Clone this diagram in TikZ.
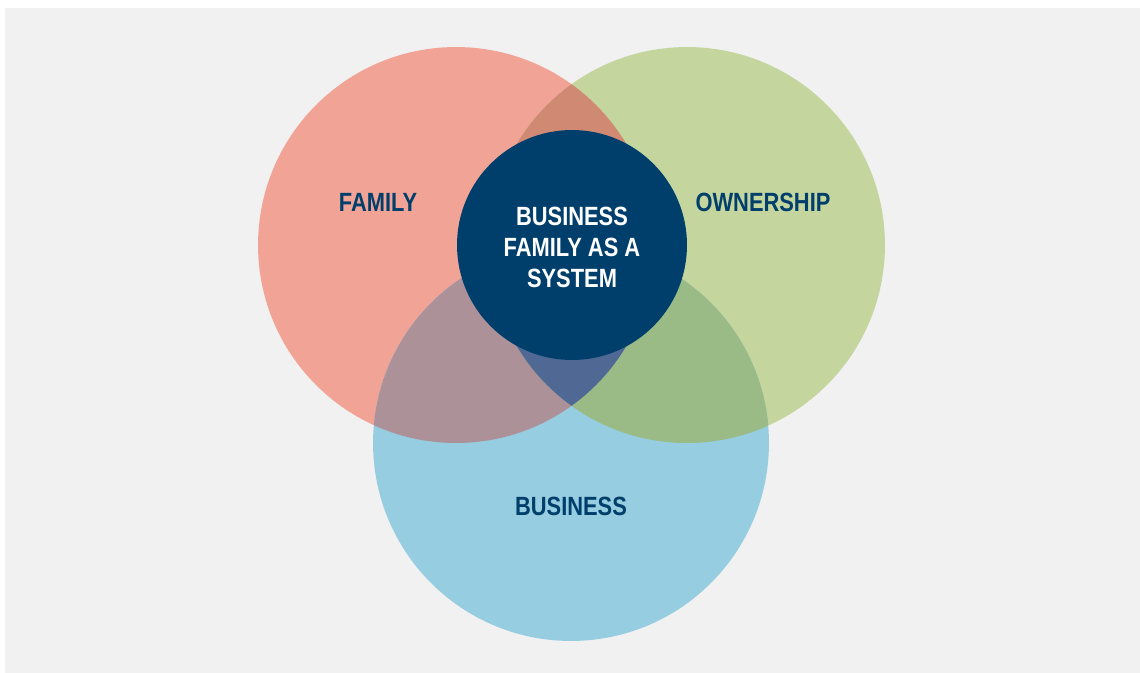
\documentclass[tikz,border=0pt]{standalone}
\usepackage{fontspec}
\setmainfont[FakeStretch=0.83]{Liberation Sans}
\usepackage{tikz}
\usetikzlibrary{positioning}
\definecolor{panel}{HTML}{F1F1F1}
\definecolor{navy}{HTML}{003E6B}
\definecolor{famcol}{HTML}{F1A396}
\definecolor{owncol}{HTML}{C5D59E}
\definecolor{buscol}{HTML}{97CDE0}
\definecolor{famown}{HTML}{D08A74}
\definecolor{fambus}{HTML}{AD9199}
\definecolor{ownbus}{HTML}{9ABA86}
\definecolor{allthree}{HTML}{4F6894}
\newcommand{\ringr}{198}
\tikzset{ring/.style={circle, draw=none, minimum size=7.92cm, inner sep=0pt}}
\tikzset{hub/.style={circle, draw=none, fill=navy, minimum size=4.6cm, inner sep=0pt}}
\tikzset{hubtext/.style={text=white, align=center, font=\bfseries\fontsize{15}{17.6}\selectfont}}
\tikzset{tag/.style={text=navy, font=\bfseries\fontsize{15}{18}\selectfont}}

\begin{document}
\begin{tikzpicture}[x=0.02cm, y=-0.02cm]
        \useasboundingbox (0,0) rectangle (1140,673);
        \fill [white]  (0,0) rectangle (1140,673);
        \fill [panel]  (5,8) rectangle (1140,673);
        %
        \node [ring, fill=famcol]   (family)    at (456,245)   {};
        \node [ring, fill=owncol]   (owner)     at (687,245)   {};
        \node [ring, fill=buscol]   (business)  at (571,443)   {};
        %
        \begin{scope}
            \clip (family.center) circle [radius=\ringr];
            \fill [famown] (owner.center) circle [radius=\ringr];
            \fill [fambus] (business.center) circle [radius=\ringr];
        \end{scope}
        \begin{scope}
            \clip (owner.center) circle [radius=\ringr];
            \fill [ownbus] (business.center) circle [radius=\ringr];
            \clip (business.center) circle [radius=\ringr];
            \fill [allthree] (family.center) circle [radius=\ringr];
        \end{scope}
        %
        \node [hub]                 (system)    at (572,245)   {};
        \node [hubtext, yshift=-1.6pt] (syslbl) at (system)    {BUSINESS\\FAMILY AS A\\SYSTEM};
        \node [tag]                 (famlbl)    at (378,202)   {FAMILY};
        \node [tag]                 (ownlbl)    at (763,202)   {OWNERSHIP};
        \node [tag]                 (buslbl)    at (571,506)   {BUSINESS};
    \end{tikzpicture}
\end{document}
